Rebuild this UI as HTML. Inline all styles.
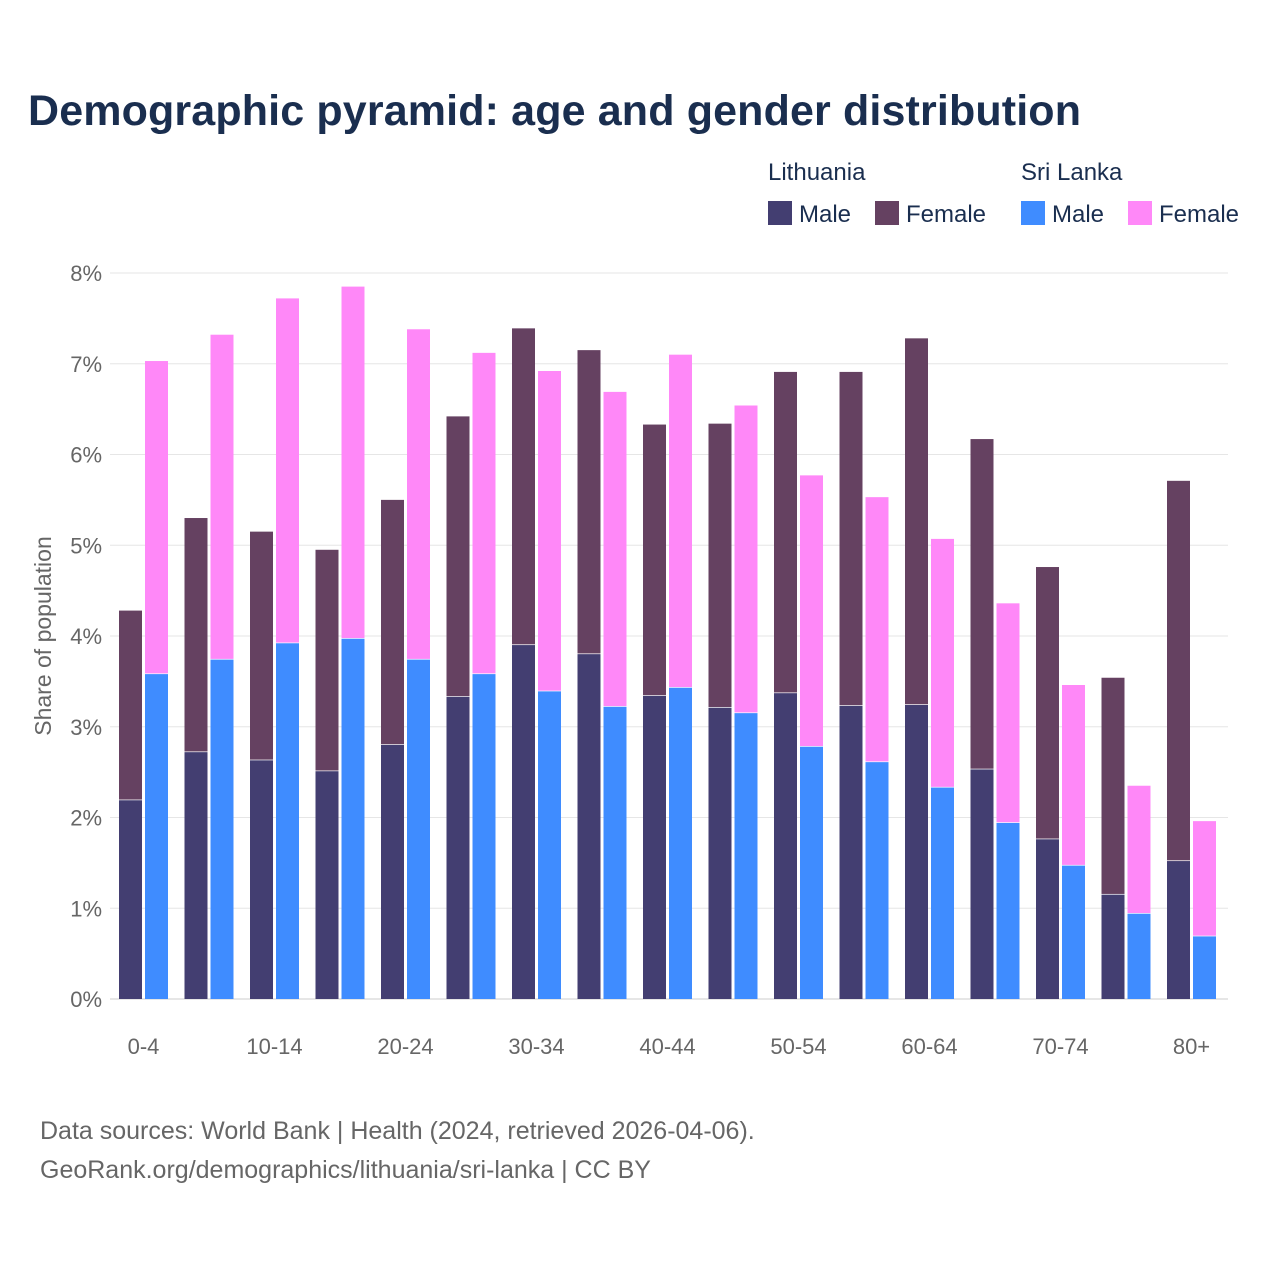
<!DOCTYPE html>
<html><head><meta charset="utf-8"><style>
body{margin:0;background:#fff;font-family:"Liberation Sans",sans-serif}
svg text{font-family:"Liberation Sans",sans-serif}
</style></head><body>
<svg id="chart" width="1280" height="1280" viewBox="0 0 1280 1280">
<text x="28" y="125" font-size="43" font-weight="bold" fill="#1a2e4f" textLength="1053">Demographic pyramid: age and gender distribution</text>
<g font-size="24" fill="#1a2e4f">
<text x="768" y="180">Lithuania</text>
<text x="1021" y="180">Sri Lanka</text>
<rect x="768" y="201" width="24" height="24" fill="#433e71"/>
<text x="799" y="222">Male</text>
<rect x="875" y="201" width="24" height="24" fill="#654161"/>
<text x="906" y="222">Female</text>
<rect x="1021" y="201" width="24" height="24" fill="#3f8cff"/>
<text x="1052" y="222">Male</text>
<rect x="1128" y="201" width="24" height="24" fill="#ff88f8"/>
<text x="1159" y="222">Female</text>
</g>
<g id="grid"></g>
<g id="bars"></g>
<g id="xaxis"></g>
<text transform="translate(51,636) rotate(-90)" text-anchor="middle" font-size="23" fill="#666">Share of population</text>
<text x="40" y="1139" font-size="25" fill="#666">Data sources: World Bank | Health (2024, retrieved 2026-04-06).</text>
<text x="40" y="1178" font-size="25" fill="#666">GeoRank.org/demographics/lithuania/sri-lanka | CC BY</text>
</svg>
<script>
const categories=["0-4","5-9","10-14","15-19","20-24","25-29","30-34","35-39","40-44","45-49","50-54","55-59","60-64","65-69","70-74","75-79","80+"];
const ltMale=[2.19,2.72,2.63,2.51,2.80,3.33,3.90,3.80,3.34,3.21,3.37,3.23,3.24,2.53,1.76,1.15,1.52];
const ltFemale=[2.09,2.58,2.52,2.44,2.70,3.09,3.49,3.35,2.99,3.13,3.54,3.68,4.04,3.64,3.00,2.39,4.19];
const lkMale=[3.58,3.74,3.92,3.97,3.74,3.58,3.39,3.22,3.43,3.15,2.78,2.61,2.33,1.94,1.47,0.94,0.69];
const lkFemale=[3.45,3.58,3.80,3.88,3.64,3.54,3.53,3.47,3.67,3.39,2.99,2.92,2.74,2.42,1.99,1.41,1.27];
const yTicks=[0,1,2,3,4,5,6,7,8];
const NS="http://www.w3.org/2000/svg";
const x0=110,x1=1228,y0=999,pxPer=90.75;
const band=65.5;
const y=v=>y0-v*pxPer;
const xb=i=>x0+i*band;
function mk(tag,attrs,parent){const e=document.createElementNS(NS,tag);for(const k in attrs)e.setAttribute(k,attrs[k]);parent.appendChild(e);return e;}
const grid=document.getElementById('grid'),bars=document.getElementById('bars'),xa=document.getElementById('xaxis');
yTicks.forEach(t=>{
 const l=mk('line',{x1:x0,x2:x1,y1:y(t),y2:y(t),stroke:t===0?'#ccc':'#e6e6e6','stroke-width':1},grid);
 
 
 const tx=mk('text',{x:102,y:y(t)+8,'text-anchor':'end','font-size':22,fill:'#666'},grid);
 tx.textContent=t+'%';
 
 
});
categories.forEach((c,i)=>{
 const bx=xb(i)+9,w=23;
 const sets=[[bx,ltMale[i],ltFemale[i],'#433e71','#654161','lt'],[bx+26,lkMale[i],lkFemale[i],'#3f8cff','#ff88f8','lk']];
 sets.forEach(s=>{
  const m=mk('rect',{x:s[0],y:y(s[1]),width:w,height:s[1]*pxPer,fill:s[3]},bars);
  
  
  const f=mk('rect',{x:s[0],y:y(s[1]+s[2]),width:w,height:s[2]*pxPer-0.7,fill:s[4]},bars);
  
  
 });
 if(i%2===0){
  const t=mk('text',{x:xb(i)+9+24.5,y:1054,'text-anchor':'middle','font-size':22,fill:'#666'},xa);
  t.textContent=c;
  
  
 }
});
</script>
</body></html>
